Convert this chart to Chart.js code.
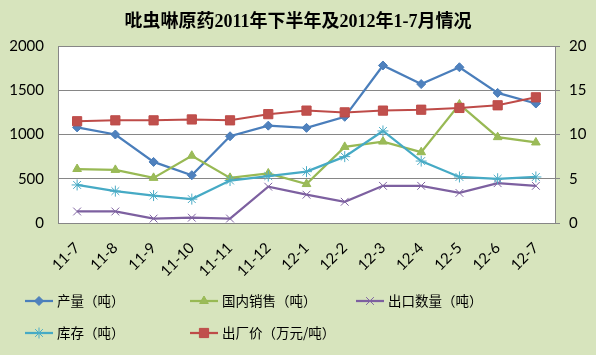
<!DOCTYPE html>
<html>
<head>
<meta charset="utf-8">
<script src="https://cdn.jsdelivr.net/npm/chart.js@4/dist/chart.umd.min.js"></script>
<style>
  html, body { margin: 0; padding: 0; background: #D7E4BD; }
  #wrap { width: 596px; height: 355px; position: relative; }
</style>
</head>
<body>
<div id="wrap"><canvas id="c" width="596" height="355"></canvas></div>
<script>
const categories = ["11-7","11-8","11-9","11-10","11-11","11-12","12-1","12-2","12-3","12-4","12-5","12-6","12-7"];
const production = [1080, 1000, 690, 540, 980, 1100, 1075, 1200, 1780, 1570, 1760, 1470, 1350];
const domesticSales = [610, 600, 510, 760, 510, 560, 440, 860, 920, 800, 1340, 970, 910];
const exports = [130, 130, 50, 60, 50, 410, 320, 240, 420, 420, 340, 450, 420];
const inventory = [430, 360, 310, 270, 480, 530, 580, 750, 1040, 700, 520, 500, 520];
const factoryPrice = [11.5, 11.6, 11.6, 11.7, 11.6, 12.3, 12.7, 12.5, 12.7, 12.8, 13.0, 13.3, 14.2];
const leftTicks = [0, 500, 1000, 1500, 2000];
const rightTicks = [0, 5, 10, 15, 20];
const seriesNames = ["产量（吨）", "国内销售（吨）", "出口数量（吨）", "库存（吨）", "出厂价（万元/吨）"];
const titleText = "吡虫啉原药2011年下半年及2012年1-7月情况";

const bgPlugin = {
  id: 'bg',
  beforeDraw(chart) {
    const ctx = chart.ctx, a = chart.chartArea;
    ctx.save();
    ctx.fillStyle = '#D7E4BD';
    ctx.fillRect(0, 0, chart.width, chart.height);
    ctx.fillStyle = '#FFFFFF';
    ctx.fillRect(a.left, a.top, a.right - a.left, a.bottom - a.top);
    ctx.restore();
  }
};

const legendPlugin = {
  id: 'gridLegend',
  afterDraw(chart) {
    const ctx = chart.ctx;
    const cols = [25, 190, 356];
    const rows = [301, 333];
    ctx.save();
    chart.data.datasets.forEach((ds, i) => {
      const x = cols[i % 3], y = rows[Math.floor(i / 3)];
      ctx.strokeStyle = ds.borderColor;
      ctx.lineWidth = 2.25;
      ctx.beginPath();
      ctx.moveTo(x, y);
      ctx.lineTo(x + 28, y);
      ctx.stroke();
      const opts = {
        pointStyle: ds.pointStyle,
        radius: ds.pointRadius,
        rotation: 0,
        borderWidth: ds.pointBorderWidth || 1
      };
      ctx.fillStyle = ds.pointBackgroundColor;
      ctx.strokeStyle = ds.pointBorderColor;
      ctx.lineWidth = opts.borderWidth;
      if (Chart.helpers && Chart.helpers.drawPoint) {
        Chart.helpers.drawPoint(ctx, opts, x + 14, y);
      }
      ctx.fillStyle = '#000';
      ctx.font = '13.5px "Noto Sans CJK SC", sans-serif';
      ctx.textBaseline = 'middle';
      ctx.textAlign = 'left';
      ctx.fillText(ds.label, x + 32, y);
    });
    ctx.restore();
  }
};

new Chart(document.getElementById('c'), {
  type: 'line',
  data: {
    labels: categories,
    datasets: [
      { label: seriesNames[0], data: production, yAxisID: 'y', order: 5,
        borderColor: '#4A7EBB', backgroundColor: '#4F81BD', borderWidth: 2.25,
        pointStyle: 'rectRot', pointRadius: 4.5, pointBackgroundColor: '#4F81BD', pointBorderColor: '#4A7EBB', pointBorderWidth: 1 },
      { label: seriesNames[1], data: domesticSales, yAxisID: 'y', order: 4,
        borderColor: '#98B954', backgroundColor: '#9BBB59', borderWidth: 2.25,
        pointStyle: 'triangle', pointRadius: 5, pointBackgroundColor: '#9BBB59', pointBorderColor: '#98B954', pointBorderWidth: 1 },
      { label: seriesNames[2], data: exports, yAxisID: 'y', order: 3,
        borderColor: '#7D60A0', backgroundColor: '#8064A2', borderWidth: 2.25,
        pointStyle: 'crossRot', pointRadius: 5.5, pointBackgroundColor: '#8064A2', pointBorderColor: '#8064A2', pointBorderWidth: 1 },
      { label: seriesNames[3], data: inventory, yAxisID: 'y', order: 2,
        borderColor: '#46AAC5', backgroundColor: '#4BACC6', borderWidth: 2.25,
        pointStyle: 'star', pointRadius: 5.5, pointBackgroundColor: '#4BACC6', pointBorderColor: '#4BACC6', pointBorderWidth: 1 },
      { label: seriesNames[4], data: factoryPrice, yAxisID: 'y1', order: 1,
        borderColor: '#BE4B48', backgroundColor: '#C0504D', borderWidth: 2,
        pointStyle: 'rect', pointRadius: 6.5, pointBackgroundColor: '#C0504D', pointBorderColor: '#BE4B48', pointBorderWidth: 1 }
    ]
  },
  options: {
    responsive: false,
    animation: false,
    devicePixelRatio: 1,
    layout: { padding: { left: 0, right: 0, top: 0, bottom: 0 } },
    plugins: {
      legend: { display: false },
      tooltip: { enabled: false },
      title: {
        display: true,
        text: titleText,
        color: '#000',
        font: { family: '"Liberation Serif", "Noto Sans CJK SC", serif', size: 18, weight: 'bold' },
        padding: { top: 12, bottom: 12.4 }
      }
    },
    scales: {
      x: {
        offset: true,
        grid: { display: false },
        border: { display: true, color: '#868686', width: 1 },
        ticks: { color: '#000', font: { family: 'Lato, sans-serif', size: 15 }, maxRotation: 45, minRotation: 45, padding: 8, autoSkip: false },
        afterFit(s) { s.height = 132; }
      },
      y: {
        position: 'left',
        min: 0, max: 2000,
        afterBuildTicks(s) { s.ticks = leftTicks.map(v => ({ value: v })); },
        grid: { color: '#868686', drawTicks: false, lineWidth: 1 },
        border: { display: true, color: '#868686', width: 1 },
        ticks: { color: '#000', font: { family: 'Lato, sans-serif', size: 15 }, padding: 14, callback: v => String(v) },
        afterFit(s) { s.width = 58; }
      },
      y1: {
        position: 'right',
        min: 0, max: 20,
        afterBuildTicks(s) { s.ticks = rightTicks.map(v => ({ value: v })); },
        grid: { drawOnChartArea: false, drawTicks: true, tickLength: 5, color: '#868686' },
        border: { display: true, color: '#868686', width: 1 },
        ticks: { color: '#000', font: { family: 'Lato, sans-serif', size: 15 }, padding: 9, callback: v => String(v) },
        afterFit(s) { s.width = 41; }
      }
    }
  },
  plugins: [bgPlugin, legendPlugin]
});
</script>
</body>
</html>
